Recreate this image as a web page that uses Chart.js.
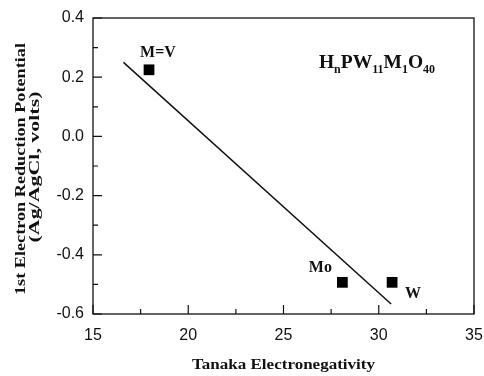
<!DOCTYPE html>
<html>
<head>
<meta charset="utf-8">
<script src="https://cdn.jsdelivr.net/npm/chart.js@4.4.1/dist/chart.umd.min.js"></script>
<style>
  html, body { margin: 0; padding: 0; background: #fff; }
  #wrap { width: 484px; height: 376px; }
</style>
</head>
<body>
<div id="wrap"><canvas id="chart" width="484" height="376"></canvas></div>
<script>
/* ================================
   DATA
================================ */
const electronegativity = [17.94, 28.09, 30.70];
const potential = [0.225, -0.493, -0.493];
const metalLabels = ["M=V", "Mo", "W"];

const fitX = [16.6, 30.65];
const fitY = [0.25, -0.566];

const xTitle = "Tanaka Electronegativity";
const yTitle = ["1st Electron Reduction Potential", "(Ag/AgCl, volts)"];

/* ================================
   STYLE
================================ */
const SERIF = "'Liberation Serif', 'Times New Roman', serif";
const SANS = "'Liberation Sans', Arial, sans-serif";
const INK = "#111";

// label offsets from each point (px)
const labelOffsets = [[9, -13], [-22, -10], [21, 16]];

// draw text stretched along its reading direction to a target length
function stretchedText(ctx, txt, x, y, len, angle) {
  const w = ctx.measureText(txt).width;
  ctx.save();
  ctx.translate(x, y);
  ctx.rotate(angle);
  ctx.scale(len / w, 1);
  ctx.fillText(txt, 0, 0);
  ctx.restore();
}

/* ================================
   PLUGIN: frame, inward ticks, titles, annotations
================================ */
const decorations = {
  id: "decorations",
  afterDraw(chart) {
    const { ctx, chartArea: a, scales } = chart;
    const xs = scales.x, ys = scales.y;
    ctx.save();
    ctx.strokeStyle = INK;
    ctx.lineWidth = 1.3;
    ctx.strokeRect(a.left, a.top, a.right - a.left, a.bottom - a.top);

    ctx.lineWidth = 1.2;
    ctx.beginPath();
    xs.ticks.forEach(t => {
      const px = xs.getPixelForValue(t.value);
      const major = Math.abs(t.value / 5 - Math.round(t.value / 5)) < 1e-6;
      ctx.moveTo(px, a.bottom);
      ctx.lineTo(px, a.bottom - (major ? 9 : 5));
    });
    ys.ticks.forEach(t => {
      const py = ys.getPixelForValue(t.value);
      const major = Math.round(t.value * 10) % 2 === 0;
      ctx.moveTo(a.left, py);
      ctx.lineTo(a.left + (major ? 9 : 5), py);
    });
    ctx.stroke();

    ctx.fillStyle = INK;
    ctx.textBaseline = "alphabetic";
    ctx.textAlign = "center";

    // axis titles (wide lettering, as in the source figure)
    ctx.font = "bold 15px " + SERIF;
    stretchedText(ctx, xTitle, 283.5, 369, 183, 0);
    stretchedText(ctx, yTitle[0], 25, 169, 252, -Math.PI / 2);
    stretchedText(ctx, yTitle[1], 39, 167, 151, -Math.PI / 2);

    // point labels
    ctx.font = "bold 16px " + SERIF;
    metalLabels.forEach((lab, i) => {
      const px = xs.getPixelForValue(electronegativity[i]);
      const py = ys.getPixelForValue(potential[i]);
      ctx.fillText(lab, px + labelOffsets[i][0], py + labelOffsets[i][1]);
    });

    // formula H_nPW_11M_1O_40
    const parts = [["H", 0], ["n", 1], ["PW", 0], ["11", 1], ["M", 0], ["1", 1], ["O", 0], ["40", 1]];
    let fx = xs.getPixelForValue(26.86);
    const fy = ys.getPixelForValue(0.232);
    ctx.textAlign = "left";
    parts.forEach(([s, sub]) => {
      ctx.font = sub ? "bold 12px " + SERIF : "bold 19.5px " + SERIF;
      ctx.fillText(s, fx, fy + (sub ? 5 : 0));
      fx += ctx.measureText(s).width;
    });
    ctx.restore();
  }
};

/* ================================
   CHART
================================ */
new Chart(document.getElementById("chart"), {
  type: "scatter",
  data: {
    datasets: [
      {
        data: electronegativity.map((x, i) => ({ x, y: potential[i] })),
        pointStyle: "rect",
        pointRadius: 7.6,
        backgroundColor: "#000",
        borderWidth: 0
      },
      {
        data: fitX.map((x, i) => ({ x, y: fitY[i] })),
        showLine: true,
        pointRadius: 0,
        borderColor: INK,
        borderWidth: 1.5
      }
    ]
  },
  options: {
    responsive: false,
    animation: false,
    layout: { padding: { top: 18, right: 10, left: 0, bottom: 0 } },
    plugins: { legend: { display: false }, tooltip: { enabled: false } },
    scales: {
      x: {
        type: "linear",
        min: 15, max: 35,
        afterFit(s) { s.height = 62; s.paddingLeft = 0; s.paddingRight = 0; },
        grid: { display: false, drawTicks: false },
        border: { display: false },
        ticks: {
          stepSize: 2.5,
          padding: 12,
          color: INK,
          font: { family: SANS, size: 16 },
          callback: v => (Math.abs(v % 5) < 1e-6 ? String(v) : "")
        }
      },
      y: {
        min: -0.6, max: 0.4,
        afterFit(s) { s.width = 93; s.paddingTop = 0; s.paddingBottom = 0; },
        grid: { display: false, drawTicks: false },
        border: { display: false },
        ticks: {
          stepSize: 0.1,
          padding: 9,
          color: INK,
          font: { family: SANS, size: 16 },
          callback: v => {
            const r = Math.round(v * 10);
            return r % 2 === 0 ? (r / 10 + 0).toFixed(1) : "";
          }
        }
      }
    }
  },
  plugins: [decorations]
});
</script>
</body>
</html>
